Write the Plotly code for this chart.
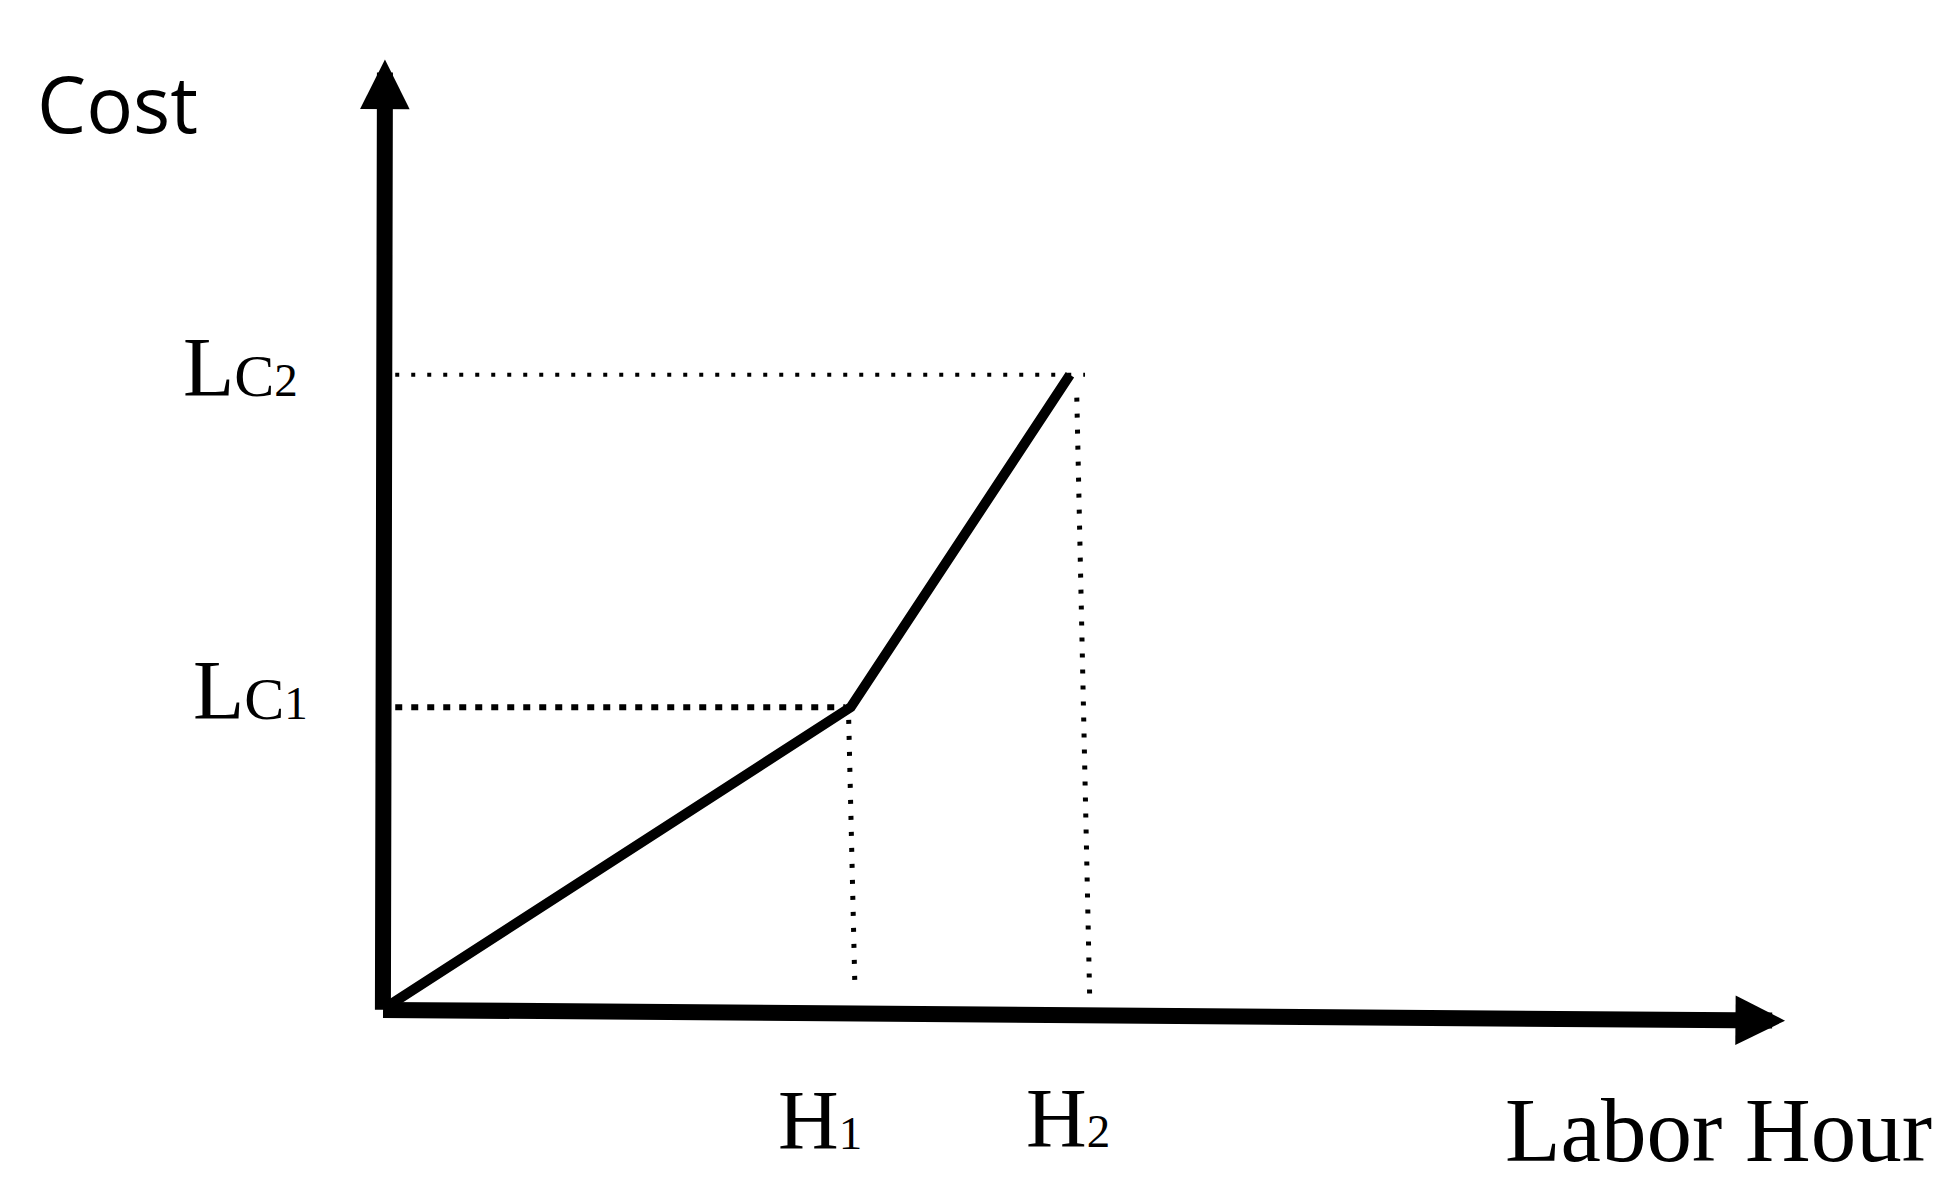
import plotly.graph_objects as go

# kink points of the labour cost curve (arbitrary units, origin first)
hours = [0, 6.8, 10.0]
cost = [0, 4.75, 10.0]
hour_labels = ["", "H1", "H2"]
cost_labels = ["", "Lc1", "Lc2"]

# dotted guide lines: (x0, y0, x1, y1)
guides_h = [(0.15, 4.75, 6.72, 4.75), (0.15, 10.0, 10.22, 10.0)]
guides_v = [(6.77, 4.55, 6.86, 0.36), (10.1, 9.64, 10.29, 0.08)]
guide_styles = [dict(width=6, dash="7px,9px"), dict(width=4, dash="4px,12px")]
guide_styles_v = [dict(width=5, dash="4px,12px"), dict(width=5, dash="4px,12px")]

x_end = 20.44   # tip of the hour axis
x_end_drop = -0.2
y_end = 14.98   # tip of the cost axis

SERIF = "Liberation Serif"
BIG = 84


def fancy(label):
    # "Lc2" -> L + small-cap C + small 2, like the original figure
    head, body, idx = label[0], label[1:-1], label[-1]
    out = head
    if body:
        out += "<span style='font-size:%dpx'>%s</span>" % (int(BIG * 0.72), body.upper())
    out += "<span style='font-size:%dpx'>%s</span>" % (int(BIG * 0.57), idx)
    return out


fig = go.Figure()
for (x0, y0, x1, y1), st in zip(guides_h, guide_styles):
    fig.add_scatter(x=[x0, x1], y=[y0, y1], mode="lines", line=dict(color="black", **st))
for (x0, y0, x1, y1), st in zip(guides_v, guide_styles_v):
    fig.add_scatter(x=[x0, x1], y=[y0, y1], mode="lines", line=dict(color="black", **st))

fig.add_scatter(x=hours, y=cost, mode="lines", line=dict(color="black", width=10))

arrow = dict(xref="x", yref="y", axref="x", ayref="y", showarrow=True, text="",
             arrowhead=2, arrowsize=0.62, arrowwidth=16, arrowcolor="black")
fig.add_annotation(x=0, y=y_end, ax=-0.03, ay=-0.05, **arrow)
fig.add_annotation(x=x_end, y=x_end_drop, ax=-0.05, ay=-0.03, **arrow)

lab = dict(xref="x", yref="y", showarrow=False, font=dict(family=SERIF, size=BIG, color="black"))
fig.add_annotation(x=0, y=cost[2], text=fancy(cost_labels[2]), xanchor="right", xshift=-85, yshift=7, **lab)
fig.add_annotation(x=0, y=cost[1], text=fancy(cost_labels[1]), xanchor="right", xshift=-75, yshift=17, **lab)
fig.add_annotation(x=hours[1], y=0, text=fancy(hour_labels[1]), xshift=-31, yshift=-113, **lab)
fig.add_annotation(x=hours[2], y=0, text=fancy(hour_labels[2]), xshift=-2, yshift=-111, **lab)
fig.add_annotation(x=x_end + 2.17, y=-1.93, text="Labor Hour", xanchor="right", xref="x", yref="y",
                   showarrow=False, font=dict(family=SERIF, size=91, color="black"))
fig.add_annotation(x=-2.7, y=14.3, text="Cost", xanchor="right", showarrow=False, xref="x", yref="y",
                   font=dict(family="Open Sans", size=78, color="black"))

fig.update_layout(width=1957, height=1203, margin=dict(l=0, r=0, t=0, b=0),
                  paper_bgcolor="white", plot_bgcolor="white", showlegend=False)
fig.update_xaxes(range=[-5.62, 22.95], visible=False)
fig.update_yaxes(range=[-3.08, 15.92], visible=False)

fig.write_html("out.html", config={"displayModeBar": False},
               post_script="document.body.style.margin='0';")
